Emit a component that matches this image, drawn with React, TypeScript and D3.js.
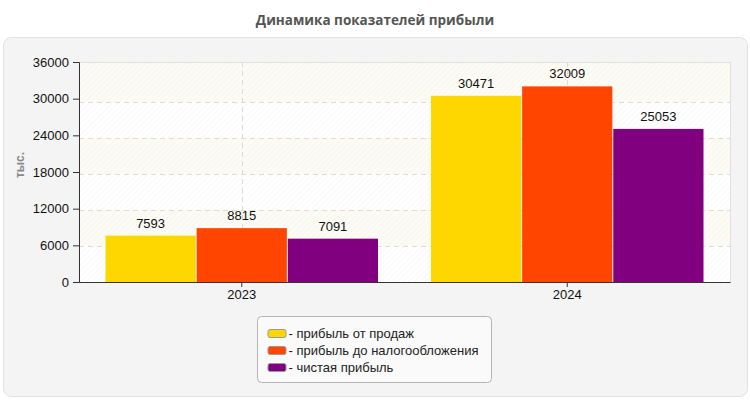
import { useEffect, useRef } from 'react';
import * as d3 from 'd3';

const years = ['2023', '2024'];
const seriesNames = ['прибыль от продаж', 'прибыль до налогообложения', 'чистая прибыль'];
const seriesColors = ['#ffd700', '#ff4500', '#800080'];
const salesProfit = [7593, 30471];
const preTaxProfit = [8815, 32009];
const netProfit = [7091, 25053];
const yTicks = [0, 6000, 12000, 18000, 24000, 30000, 36000];

const W = 750;
const H = 400;
const FONT = '"Liberation Sans", Arial, sans-serif';

function App() {
    const svgRef = useRef<SVGSVGElement>(null);

    useEffect(() => {
        if (!svgRef.current) return;
        const svg = d3.select(svgRef.current);
        svg.selectAll('*').remove();

        const margin = { top: 62, right: 20, bottom: 118, left: 79 };
        const innerW = W - margin.left - margin.right;
        const innerH = H - margin.top - margin.bottom;
        const values = [salesProfit, preTaxProfit, netProfit];

        const defs = svg.append('defs');
        const pattern = defs.append('pattern')
            .attr('id', 'hatch')
            .attr('patternUnits', 'userSpaceOnUse')
            .attr('width', 4)
            .attr('height', 4)
            .attr('patternTransform', 'rotate(45)');
        pattern.append('line')
            .attr('x1', 0).attr('y1', 0).attr('x2', 0).attr('y2', 4)
            .attr('stroke', '#ececec')
            .attr('stroke-width', 1);

        // title
        svg.append('text')
            .attr('x', W / 2)
            .attr('y', 25)
            .attr('text-anchor', 'middle')
            .attr('font-family', '"Open Sans", sans-serif')
            .attr('font-size', 13.5)
            .attr('font-weight', 'bold')
            .attr('fill', '#555')
            .text('Динамика показателей прибыли');

        // outer panel
        svg.append('rect')
            .attr('x', 3.5).attr('y', 37.5)
            .attr('width', 744).attr('height', 359)
            .attr('rx', 8)
            .attr('fill', '#f4f4f4')
            .attr('stroke', '#e2e2e2');

        const x0 = d3.scaleBand().domain(years).range([0, innerW]);
        const x1 = d3.scaleBand<number>().domain([0, 1, 2])
            .range([26.5, x0.bandwidth() - 26.5]).paddingInner(0.01);
        const y = d3.scaleLinear().domain([0, 36000]).range([innerH, 0]);
        // grid lines sit on a slightly shorter step than the tick labels
        const yGrid = d3.scaleLinear().domain([0, 36000]).range([innerH, 4]);

        const g = svg.append('g').attr('transform', `translate(${margin.left},${margin.top})`);

        // alternating bands
        for (let i = 0; i < yTicks.length - 1; i++) {
            const top = i === yTicks.length - 2 ? 0 : yGrid(yTicks[i + 1]);
            const bottom = yGrid(yTicks[i]);
            g.append('rect')
                .attr('x', 0).attr('y', top)
                .attr('width', innerW).attr('height', bottom - top)
                .attr('fill', i % 2 === 0 ? '#ffffff' : '#fcfcf4');
        }
        g.append('rect')
            .attr('width', innerW).attr('height', innerH)
            .attr('fill', 'url(#hatch)')
            .attr('opacity', 0.6);
        g.append('rect')
            .attr('x', 0.5).attr('y', 0.5)
            .attr('width', innerW).attr('height', innerH)
            .attr('fill', 'none')
            .attr('stroke', '#e0e0e0');

        // grid
        g.selectAll('.hgrid')
            .data(yTicks.slice(1, -1))
            .join('line')
            .attr('x1', 0).attr('x2', innerW)
            .attr('y1', d => Math.round(yGrid(d)) + 0.5)
            .attr('y2', d => Math.round(yGrid(d)) + 0.5)
            .attr('stroke', '#dcdcdc')
            .attr('stroke-dasharray', '5,4');
        g.selectAll('.vgrid')
            .data(years)
            .join('line')
            .attr('x1', d => Math.round(x0(d)! + x0.bandwidth() / 2) + 0.5)
            .attr('x2', d => Math.round(x0(d)! + x0.bandwidth() / 2) + 0.5)
            .attr('y1', 0).attr('y2', innerH)
            .attr('stroke', '#dcdcdc')
            .attr('stroke-dasharray', '5,4');

        // bars
        years.forEach((yr, yi) => {
            const grp = g.append('g').attr('transform', `translate(${x0(yr)},0)`);
            values.forEach((vals, si) => {
                const v = vals[yi];
                grp.append('rect')
                    .attr('x', x1(si)!)
                    .attr('y', y(v))
                    .attr('width', x1.bandwidth())
                    .attr('height', innerH - y(v))
                    .attr('fill', seriesColors[si]);
                grp.append('text')
                    .attr('x', x1(si)! + x1.bandwidth() / 2)
                    .attr('y', y(v) - 8)
                    .attr('text-anchor', 'middle')
                    .attr('font-family', FONT)
                    .attr('font-size', 13)
                    .attr('fill', '#111')
                    .text(v);
            });
        });

        // axes
        const yAxis = g.append('g')
            .call(d3.axisLeft(y).tickValues(yTicks).tickSize(6).tickPadding(4).tickFormat(d => String(d)));
        yAxis.select('.domain').attr('stroke', '#333');
        yAxis.selectAll('.tick line').attr('stroke', '#333');
        yAxis.selectAll('.tick text')
            .attr('font-family', FONT)
            .attr('font-size', 13)
            .attr('fill', '#111');

        const xAxis = g.append('g')
            .attr('transform', `translate(0,${innerH})`)
            .call(d3.axisBottom(x0).tickSize(5).tickSizeOuter(0).tickPadding(3));
        xAxis.select('.domain').attr('stroke', '#333');
        xAxis.selectAll('.tick line').attr('stroke', '#333');
        xAxis.selectAll('.tick text')
            .attr('font-family', FONT)
            .attr('font-size', 13)
            .attr('fill', '#111');

        // y axis title
        svg.append('text')
            .attr('transform', `translate(24,165) rotate(-90)`)
            .attr('text-anchor', 'middle')
            .attr('font-family', FONT)
            .attr('font-size', 12)
            .attr('font-weight', 'bold')
            .attr('fill', '#888')
            .text('тыс.');

        // legend
        const lg = svg.append('g').attr('transform', 'translate(257.5,316.5)');
        lg.append('rect')
            .attr('width', 234).attr('height', 66)
            .attr('rx', 4)
            .attr('fill', '#fafafa')
            .attr('stroke', '#b4b4b4');
        seriesNames.forEach((name, i) => {
            const row = lg.append('g').attr('transform', `translate(10,${13 + i * 17})`);
            row.append('rect')
                .attr('x', 0.5).attr('y', 0)
                .attr('width', 18).attr('height', 8)
                .attr('rx', 2)
                .attr('fill', seriesColors[i])
                .attr('stroke', '#999');
            row.append('text')
                .attr('x', 21)
                .attr('y', 4)
                .attr('dy', '0.36em')
                .attr('font-family', FONT)
                .attr('font-size', 13)
                .attr('fill', '#222')
                .text('- ' + name);
        });
    }, []);

    return (
        <svg ref={svgRef} width={W} height={H} style={{ position: 'absolute', left: 0, top: 0, background: '#fff' }}></svg>
    );
}

export default App;
